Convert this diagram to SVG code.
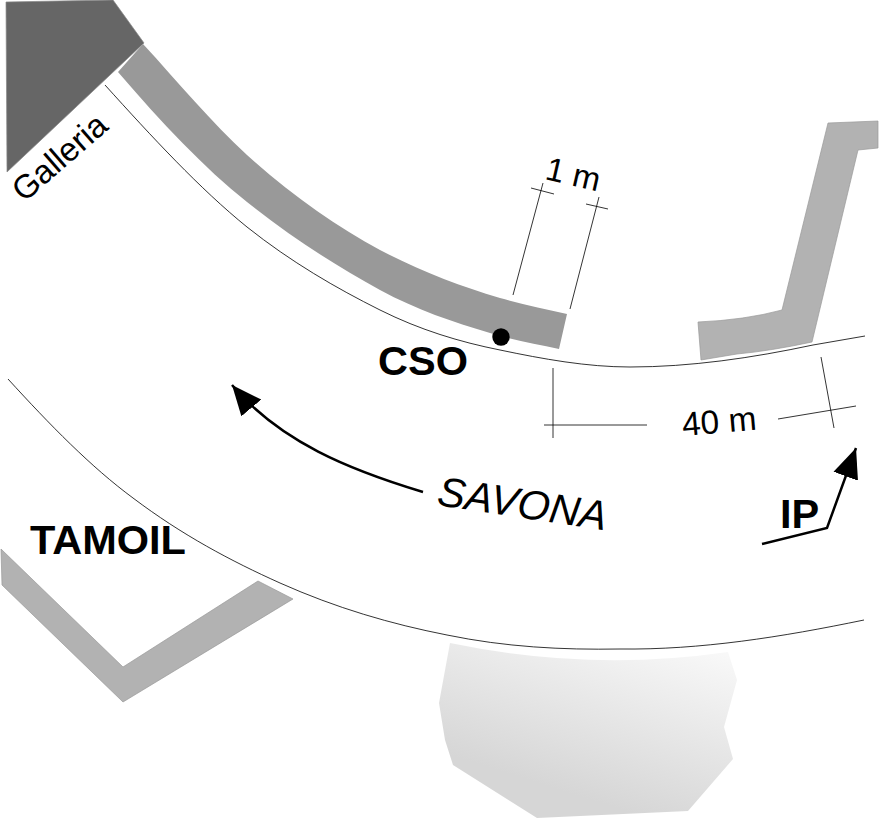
<svg xmlns="http://www.w3.org/2000/svg" width="879" height="818" viewBox="0 0 879 818">
<style>
text{font-family:"Liberation Sans",Arial,sans-serif;fill:#000}
.b{font-weight:bold;font-size:41.5px}
.thin{fill:none;stroke:#000;stroke-width:.8}
.wall{fill:#b2b2b2;stroke:#999;stroke-width:.7}
.arr{fill:none;stroke:#000;stroke-width:2.5}
</style>
<defs>
<linearGradient id="g" gradientUnits="userSpaceOnUse" x1="730" y1="645" x2="672" y2="826">
<stop offset="0" stop-color="#fafafa"/><stop offset="1" stop-color="#d6d6d6"/>
</linearGradient>
<marker id="head" markerUnits="userSpaceOnUse" markerWidth="32" markerHeight="28" refX="30" refY="14" orient="auto">
<polygon points="0,1 30,14 0,27"/>
</marker>
</defs>
<rect width="879" height="818" fill="#fff"/>
<g id="tunnel">
<polygon points="6,2 113,0 144,43 7,172" fill="#666" stroke="#888" stroke-width=".7"/>
</g>
<g id="barrier">
<path d="M143,44C178,82 212,123 247,155C291,195 336,226 380,250C420,271 460,286 500,298C522,304 545,309 567,314L559,349C536,344 513,340 490,333C453,322 417,310 380,290C336,266 291,237 247,202C204,168 161,122 118,72Z" fill="#999"/>
<circle cx="501" cy="337" r="8.7"/>
</g>
<g id="walls">
<path class="wall" d="M828,123L878,121V148L858,150L812,342Q770,351 737,354L701,360L698,322Q745,320 782,310Z"/>
<polygon class="wall" points="1,549 123,667 258,581 293,599 123,702 2,585"/>
<path id="area" fill="url(#g)" d="M450,643Q590,672 728,652L737,680L724,727L733,759L688,811L537,818L453,765L445,740L439,703Z"/>
</g>
<g id="connectors">
<path class="thin" d="M105,85C152,137 200,189 247,227C291,262 336,288 380,310C420,330 460,342 500,350C543,359 587,367 630,367C690,367 752,358 813,345C830,342 848,339 865,336"/>
<path class="thin" d="M8,379C50,425 91,467 133,498C182,535 231,561 280,583C336,608 391,624 447,635C505,647 562,650 620,649C700,650 782,637 864,620"/>
<path class="thin" d="M513,295L543,183M531,188L554,194M570,309L599,197M586,204L608,209M553,368V438M544,425H647M821,357L834,428M778,419L856,406"/>
<path class="arr" marker-end="url(#head)" d="M423,492C350,470 280,442 232,385"/>
<path class="arr" marker-end="url(#head)" d="M762,544L827,528L856,448"/>
</g>
<g id="labels">
<text class="b" x="378" y="375">CSO</text>
<text class="b" x="30" y="554">TAMOIL</text>
<text class="b" x="780" y="528">IP</text>
<text font-size="41.5" font-style="italic" transform="translate(436,505) rotate(8.5)">SAVONA</text>
<text font-size="33" transform="translate(24,203) rotate(-41)">Galleria</text>
<text font-size="33" transform="translate(544,179) rotate(13)">1 m</text>
<text font-size="33.5" transform="translate(683,436) rotate(-5)">40 m</text>
</g>
</svg>
